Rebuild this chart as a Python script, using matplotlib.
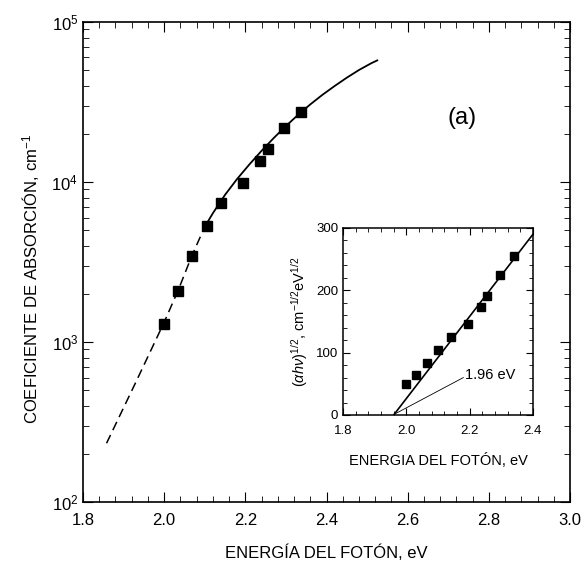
import numpy as np
import matplotlib
matplotlib.use('Agg')
import matplotlib.pyplot as plt
from matplotlib.ticker import MultipleLocator, AutoMinorLocator, LogLocator

plt.rcParams['font.family'] = ['Liberation Sans', 'DejaVu Sans']
plt.rcParams['mathtext.fontset'] = 'custom'
plt.rcParams['mathtext.rm'] = 'Liberation Sans'
plt.rcParams['mathtext.it'] = 'Liberation Sans:italic'

# measured absorption coefficient (main panel)
energy = [2.00, 2.035, 2.068, 2.105, 2.14, 2.193, 2.236, 2.256, 2.295, 2.337]
alpha = [1300, 2080, 3470, 5330, 7430, 9790, 13500, 16100, 21800, 27400]

# fitted curve: dashed extrapolation + solid part
dash_e = [1.858, 1.93, 2.00, 2.035, 2.068, 2.10]
dash_a = [233, 560, 1330, 2120, 3450, 5248]
fit_e = [2.10, 2.12, 2.15, 2.18, 2.21, 2.24, 2.27, 2.30, 2.33, 2.36,
         2.39, 2.42, 2.45, 2.48, 2.51, 2.525]
fit_a = [5248, 6383, 8318, 10471, 12882, 15668, 18836, 22387, 26303, 30549,
         35075, 39811, 44875, 50119, 55208, 57544]

# inset: (alpha*h*nu)^1/2
in_e = [2.00, 2.03, 2.065, 2.10, 2.14, 2.195, 2.235, 2.255, 2.295, 2.34]
in_y = [50, 64, 84, 105, 125, 146, 174, 191, 224, 255]
line_e = [1.96, 2.40]
line_y = [0, 290]

fig = plt.figure(figsize=(5.85, 5.67), dpi=100)
ax = fig.add_axes([0.1419, 0.1146, 0.8325, 0.8466])

ax.plot(dash_e, dash_a, color='black', lw=1.1, ls=(0, (6, 3.5)))
ax.plot(fit_e, fit_a, color='black', lw=1.3)
ax.plot(energy, alpha, ls='none', marker='s', ms=7.5, color='black')

ax.set_yscale('log')
ax.set_xlim(1.8, 3.0)
ax.set_ylim(1e2, 1e5)
ax.xaxis.set_major_locator(MultipleLocator(0.2))
ax.xaxis.set_minor_locator(AutoMinorLocator(5))
ax.yaxis.set_major_locator(LogLocator(base=10))
ax.yaxis.set_minor_locator(LogLocator(base=10, subs=np.arange(2, 10)))
ax.xaxis.set_major_formatter(plt.FormatStrFormatter('%.1f'))
ax.tick_params(which='both', direction='in', top=True, right=True, labelsize=12)
ax.tick_params(which='major', length=7)
ax.tick_params(which='minor', length=4)
ax.tick_params(axis='x', pad=8)
ax.set_xlabel('ENERGÍA DEL FOTÓN, eV', fontsize=12, labelpad=12)
ax.set_ylabel('COEFICIENTE DE ABSORCIÓN, cm$^{-1}$', fontsize=12)
ax.yaxis.set_label_coords(-0.085, 0.465)
for s in ax.spines.values():
    s.set_linewidth(1.2)
ax.text(2.697, 2.5e4, '(a)', fontsize=17, va='center')

# inset
axi = fig.add_axes([0.5863, 0.2681, 0.3248, 0.3298])
axi.plot(line_e, line_y, color='black', lw=1.2)
axi.plot(in_e, in_y, ls='none', marker='s', ms=5.5, color='black')
axi.plot([1.965, 2.18], [2, 60], color='black', lw=0.6)
axi.text(2.185, 64, '1.96 eV', fontsize=10.5, va='center')
axi.set_xlim(1.8, 2.4)
axi.set_ylim(0, 300)
axi.xaxis.set_major_locator(MultipleLocator(0.2))
axi.xaxis.set_minor_locator(AutoMinorLocator(5))
axi.yaxis.set_major_locator(MultipleLocator(100))
axi.yaxis.set_minor_locator(AutoMinorLocator(5))
axi.xaxis.set_major_formatter(plt.FormatStrFormatter('%.1f'))
axi.tick_params(which='both', direction='in', top=True, right=True, labelsize=9.5)
axi.tick_params(which='major', length=5)
axi.tick_params(which='minor', length=3)
axi.tick_params(axis='x', pad=7)
axi.set_xlabel('ENERGIA DEL FOTÓN, eV', fontsize=10.5, labelpad=12)
axi.set_ylabel(r'$(\alpha h\nu)^{1/2}$, cm$^{-1/2}$eV$^{1/2}$', fontsize=10.5, labelpad=4)
for s in axi.spines.values():
    s.set_linewidth(1.1)

plt.savefig('out.png', dpi=100)
